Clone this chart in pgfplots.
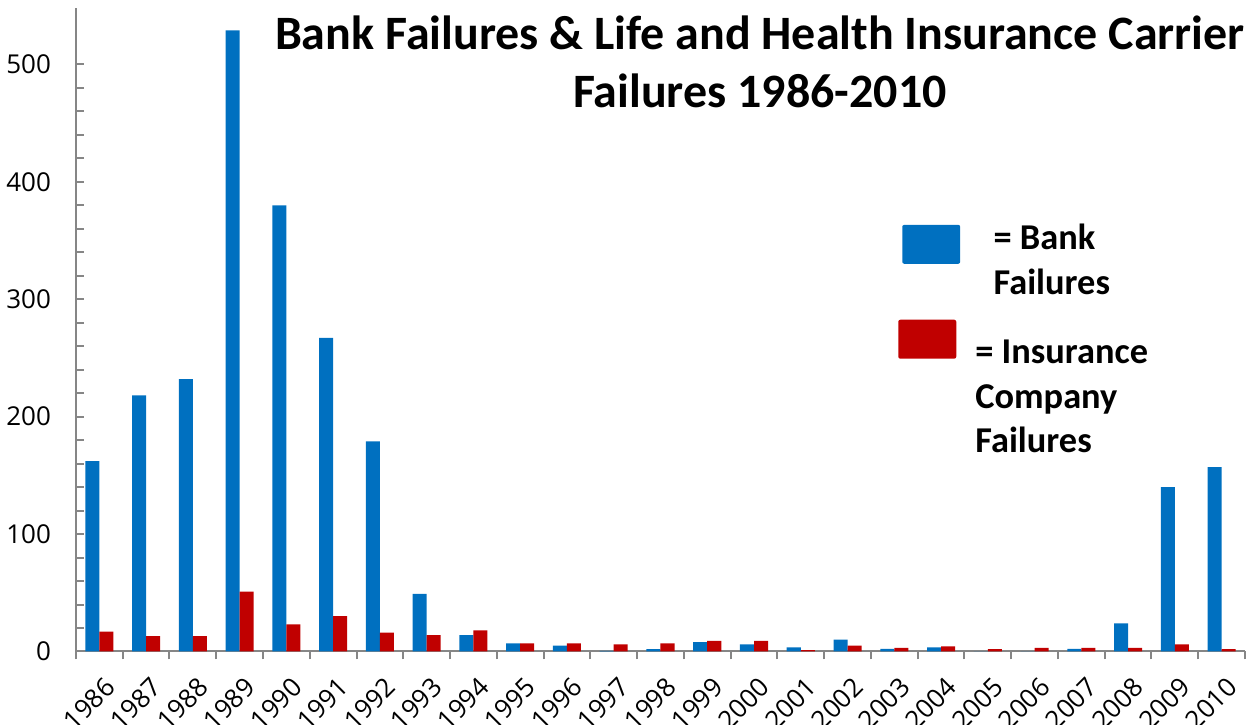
\documentclass[border=0pt]{standalone}
\usepackage{pgfplots}
\pgfplotsset{compat=1.18}
\usepackage{pgfplotstable}
\usepackage{fontspec}
\setmainfont{Carlito}
\newfontfamily\tickfont{Open Sans}
\definecolor{bankblue}{HTML}{0070C0}
\definecolor{insred}{HTML}{C00000}
\definecolor{axisgray}{HTML}{868686}

% idx 0 = 1986 ... 24 = 2010
\pgfplotstableread{
idx bank ins
0  162 17
1  218 13
2  232 13
3  529 51
4  380 23
5  267 30
6  179 16
7  49  14
8  14  18
9  7   7
10 5   7
11 0.5 6
12 2   7
13 8   9
14 6   9
15 3.4 1.1
16 10  5
17 2.3 3
18 3.4 4.3
19 0   2
20 0   3
21 2.3 3
22 24  3
23 140 6
24 157 2
}\failures

\begin{document}
\begin{tikzpicture}
\begin{axis}[
  scale only axis, width=585pt, height=322pt,
  xmin=-0.5, xmax=24.5, ymin=0, ymax=548,
  axis x line*=bottom, axis y line*=left,
  axis line style={axisgray, line width=1pt},
  ybar=0pt, bar width=0.3,
  xtick={-0.5,0.5,...,24.5},
  x tick label as interval,
  xticklabels={1986,1987,1988,1989,1990,1991,1992,1993,1994,1995,1996,1997,1998,1999,2000,2001,2002,2003,2004,2005,2006,2007,2008,2009,2010,},
  xticklabel style={font=\tickfont\fontsize{13}{15}\selectfont, xshift=5.5pt, yshift=-11.5pt, rotate=45, anchor=east, inner sep=0pt},
  ytick={0,100,...,500},
  minor y tick num=4,
  yticklabel style={font=\tickfont\fontsize{13}{15}\selectfont, xshift=-5pt},
  /pgf/number format/assume math mode=true,
  tick align=outside,
  major tick length=4pt, minor tick length=3.5pt,
  tick style={axisgray, line width=1pt},
  ytick style={xshift=4pt},
]
\addplot[fill=bankblue, draw=none] table[x=idx, y=bank] {\failures};
\addplot[fill=insred, draw=none] table[x=idx, y=ins] {\failures};

% title
\node[anchor=base, font=\bfseries\fontsize{24}{28}\selectfont] at (rel axis cs:0.585,0.935) {Bank Failures \& Life and Health Insurance Carrier};
\node[anchor=base, font=\bfseries\fontsize{24}{28}\selectfont] at (rel axis cs:0.585,0.846) {Failures 1986-2010};

% legend
\fill[bankblue, rounded corners=1pt] (rel axis cs:0.7068,0.6025) rectangle (rel axis cs:0.7564,0.663);
\fill[insred, rounded corners=1pt] (rel axis cs:0.7034,0.455) rectangle (rel axis cs:0.753,0.5155);
\begin{scope}[every node/.style={anchor=base west, inner sep=0pt, font=\bfseries\fontsize{18.2}{21}\selectfont}]
\node at (rel axis cs:0.7846,0.624) {= Bank};
\node at (rel axis cs:0.7846,0.554) {Failures};
\node at (rel axis cs:0.769,0.447) {= Insurance};
\node at (rel axis cs:0.769,0.377) {Company};
\node at (rel axis cs:0.769,0.309) {Failures};
\end{scope}
\coordinate (ll) at (rel axis cs:0,0);
\coordinate (ur) at (rel axis cs:1,1);
\end{axis}
\pgfresetboundingbox
\path ([shift={(-38pt,-36.5pt)}]ll) rectangle ([shift={(5.5pt,4pt)}]ur);
\end{tikzpicture}
\end{document}
